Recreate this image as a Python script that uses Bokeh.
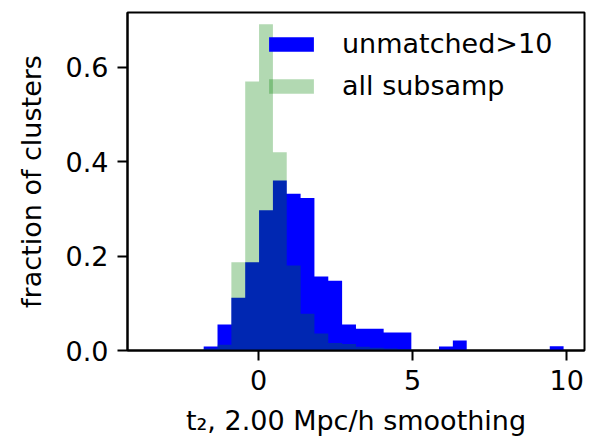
from bokeh.plotting import figure
from bokeh.models import ColumnDataSource, FixedTicker, Legend, LegendItem, Range1d, CustomJSTickFormatter
from bokeh.embed import file_html
from bokeh.resources import INLINE

# bin edges (t2 values)
bin_edges = [-1.786, -1.337, -0.887, -0.438, 0.012, 0.462, 0.911, 1.361, 1.810,
             2.260, 2.709, 3.159, 3.608, 4.058, 4.507, 4.957, 5.406, 5.856,
             6.305, 6.755, 7.204, 7.654, 8.103, 8.553, 9.002, 9.452, 9.901]
# normalised histogram heights
unmatched = [0.0085, 0.055, 0.112, 0.187, 0.297, 0.360, 0.332, 0.323, 0.157,
             0.148, 0.055, 0.046, 0.046, 0.038, 0.038, 0.0, 0.0, 0.0085,
             0.021, 0.0, 0.0, 0.0, 0.0, 0.0, 0.0, 0.009]
all_subsamp = [0.004, 0.012, 0.187, 0.570, 0.691, 0.420, 0.180, 0.078, 0.036,
               0.016, 0.014, 0.008, 0.006, 0.004, 0.003, 0.001, 0.0, 0.0,
               0.0, 0.0, 0.0, 0.0, 0.0, 0.0, 0.0, 0.0]
x_ticks = [0, 5, 10]
y_ticks = [0.0, 0.2, 0.4, 0.6]
series_labels = ["unmatched>10", "all subsamp"]

FONT = "DejaVu Sans"
FS = "27px"

p = figure(width=595, height=439, output_backend="svg", toolbar_location=None,
           x_range=Range1d(-4.26, 10.58), y_range=Range1d(0, 0.716),
           min_border_left=127, min_border_right=11, min_border_top=12,
           min_border_bottom=89)
p.grid.visible = False
p.outline_line_color = "black"
p.outline_line_width = 2

src_u = ColumnDataSource(dict(x=bin_edges, y2=unmatched + [unmatched[-1]],
                              y1=[0] * len(bin_edges)))
src_a = ColumnDataSource(dict(x=bin_edges, y2=all_subsamp + [all_subsamp[-1]],
                              y1=[0] * len(bin_edges)))
r_u = p.varea_step(x="x", y1="y1", y2="y2", step_mode="after", source=src_u,
                   fill_color="#0000ff")
r_a = p.varea_step(x="x", y1="y1", y2="y2", step_mode="after", source=src_a,
                   fill_color="#008000", fill_alpha=0.3)

for ax in (p.xaxis[0], p.yaxis[0]):
    ax.major_label_text_font = FONT
    ax.major_label_text_font_size = FS
    ax.major_label_text_color = "black"
    ax.axis_label_text_font = FONT
    ax.axis_label_text_font_size = FS
    ax.axis_label_text_font_style = "normal"
    ax.axis_label_text_color = "black"
    ax.axis_line_width = 2
    ax.major_tick_line_width = 2
    ax.major_tick_out = 10
    ax.major_tick_in = 0
    ax.minor_tick_line_color = None

p.xaxis.ticker = FixedTicker(ticks=x_ticks)
p.yaxis.ticker = FixedTicker(ticks=y_ticks)
p.yaxis.formatter = CustomJSTickFormatter(code="return tick.toFixed(1);")
p.xaxis.axis_label = "t\u2082, 2.00 Mpc/h smoothing"
p.yaxis.axis_label = "fraction of clusters"
p.xaxis.major_label_standoff = 9
p.yaxis.major_label_standoff = 9
p.xaxis.axis_label_standoff = 12
p.yaxis.axis_label_standoff = 16

legend = Legend(items=[LegendItem(label=series_labels[0], renderers=[r_u]),
                       LegendItem(label=series_labels[1], renderers=[r_a])],
                location=(136, 249))
legend.border_line_color = None
legend.background_fill_alpha = 0
legend.padding = 0
legend.margin = 0
legend.spacing = 11
legend.glyph_width = 56
legend.glyph_height = 18
legend.label_standoff = 23
legend.label_text_font = FONT
legend.label_text_font_size = FS
legend.label_text_color = "black"
p.add_layout(legend)

open("out.html", "w").write(file_html(p, INLINE))
